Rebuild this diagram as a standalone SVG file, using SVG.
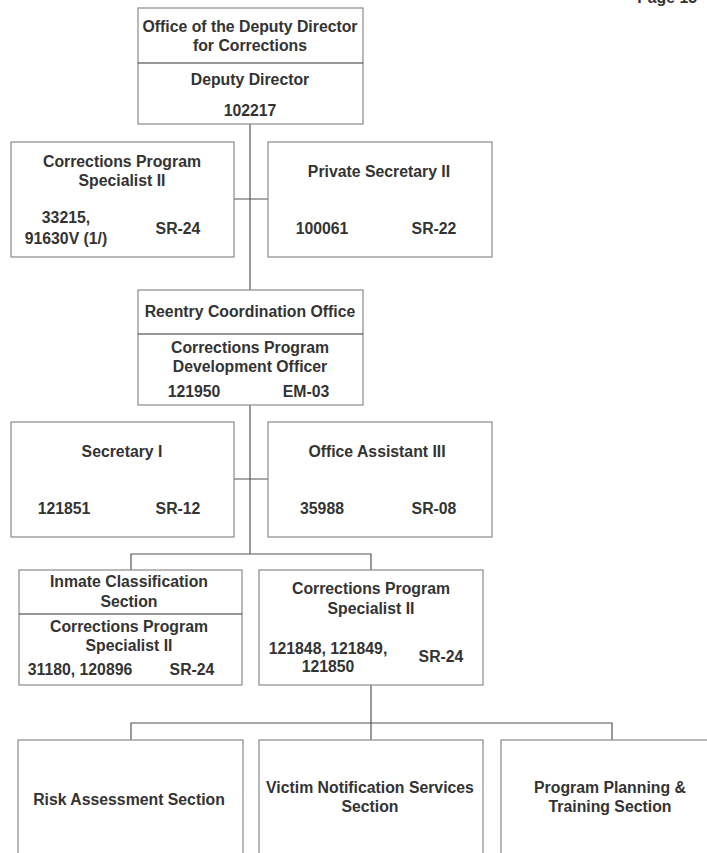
<svg xmlns="http://www.w3.org/2000/svg" width="707" height="853" viewBox="0 0 707 853">
<style>
  .box { fill: #ffffff; stroke: #8a8a8a; stroke-width: 1.2; }
  .div { stroke: #333333; stroke-width: 1.2; }
  .con { fill: none; stroke: #555555; stroke-width: 1.2; }
  text { font-family: "Liberation Sans", Arial, sans-serif; font-weight: bold; font-size: 15.8px; fill: #333333; }
  .c { text-anchor: middle; }
</style>
<rect width="707" height="853" fill="#ffffff"/>
<text x="697" y="3" style="text-anchor:end">Page 15</text>

<g id="connectors">
  <line class="con" x1="250" y1="124" x2="250" y2="290"/>
  <line class="con" x1="234" y1="199" x2="268" y2="199"/>
  <line class="con" x1="250" y1="405" x2="250" y2="554"/>
  <line class="con" x1="234" y1="479" x2="268" y2="479"/>
  <polyline class="con" points="131,570 131,554 371,554 371,570"/>
  <line class="con" x1="371" y1="685" x2="371" y2="723"/>
  <polyline class="con" points="131,740 131,723 612,723 612,740"/>
  <line class="con" x1="371" y1="723" x2="371" y2="740"/>
</g>

<g id="office-deputy-director">
  <rect class="box" x="138" y="8" width="225" height="116"/>
  <line class="div" x1="138" y1="63" x2="363" y2="63"/>
  <text class="c" x="250" y="32">Office of the Deputy Director</text>
  <text class="c" x="250" y="51">for Corrections</text>
  <text class="c" x="250" y="85">Deputy Director</text>
  <text class="c" x="250" y="116">102217</text>
</g>

<g id="cps-ii-top">
  <rect class="box" x="11" y="142" width="223" height="115"/>
  <text class="c" x="122" y="167">Corrections Program</text>
  <text class="c" x="122" y="186">Specialist II</text>
  <text class="c" x="66" y="223">33215,</text>
  <text class="c" x="66" y="244">91630V (1/)</text>
  <text class="c" x="178" y="234">SR-24</text>
</g>

<g id="private-secretary">
  <rect class="box" x="268" y="142" width="224" height="115"/>
  <text class="c" x="379" y="177">Private Secretary II</text>
  <text class="c" x="322" y="234">100061</text>
  <text class="c" x="434" y="234">SR-22</text>
</g>

<g id="reentry-office">
  <rect class="box" x="138" y="290" width="225" height="115"/>
  <line class="div" x1="138" y1="334" x2="363" y2="334"/>
  <text class="c" x="250" y="317">Reentry Coordination Office</text>
  <text class="c" x="250" y="353">Corrections Program</text>
  <text class="c" x="250" y="372">Development Officer</text>
  <text class="c" x="194" y="397">121950</text>
  <text class="c" x="306" y="397">EM-03</text>
</g>

<g id="secretary-i">
  <rect class="box" x="11" y="422" width="223" height="115"/>
  <text class="c" x="122" y="457">Secretary I</text>
  <text class="c" x="64" y="514">121851</text>
  <text class="c" x="178" y="514">SR-12</text>
</g>

<g id="office-assistant">
  <rect class="box" x="268" y="422" width="224" height="115"/>
  <text class="c" x="377" y="457">Office Assistant III</text>
  <text class="c" x="322" y="514">35988</text>
  <text class="c" x="434" y="514">SR-08</text>
</g>

<g id="inmate-classification">
  <rect class="box" x="19" y="570" width="223" height="115"/>
  <line class="div" x1="19" y1="614" x2="242" y2="614"/>
  <text class="c" x="129" y="587">Inmate Classification</text>
  <text class="c" x="129" y="607">Section</text>
  <text class="c" x="129" y="632">Corrections Program</text>
  <text class="c" x="129" y="651">Specialist II</text>
  <text class="c" x="80" y="675">31180, 120896</text>
  <text class="c" x="192" y="675">SR-24</text>
</g>

<g id="cps-ii-bottom">
  <rect class="box" x="259" y="570" width="224" height="115"/>
  <text class="c" x="371" y="594">Corrections Program</text>
  <text class="c" x="371" y="614">Specialist II</text>
  <text class="c" x="328" y="654">121848, 121849,</text>
  <text class="c" x="328" y="672">121850</text>
  <text class="c" x="441" y="662">SR-24</text>
</g>

<g id="risk-assessment">
  <rect class="box" x="18" y="740" width="225" height="130"/>
  <text class="c" x="129" y="805">Risk Assessment Section</text>
</g>

<g id="victim-notification">
  <rect class="box" x="259" y="740" width="224" height="130"/>
  <text class="c" x="370" y="793">Victim Notification Services</text>
  <text class="c" x="370" y="812">Section</text>
</g>

<g id="program-planning">
  <rect class="box" x="501" y="740" width="224" height="130"/>
  <text class="c" x="610" y="793">Program Planning &amp;</text>
  <text class="c" x="610" y="812">Training Section</text>
</g>
</svg>
